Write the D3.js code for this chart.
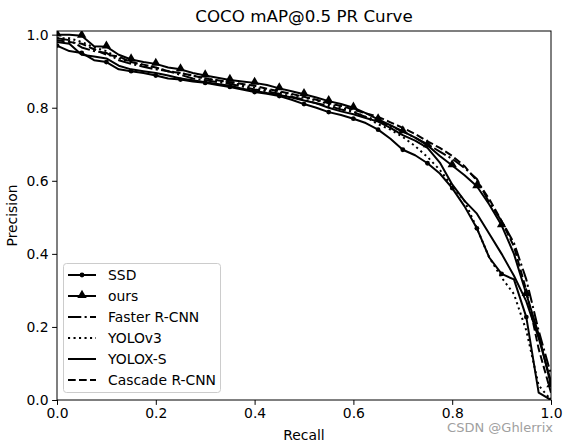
<!DOCTYPE html>
<html><head><meta charset="utf-8">
<script src="https://cdn.jsdelivr.net/npm/d3@7"></script>
<style>body{margin:0;background:#fff}svg{display:block}text{font-family:"DejaVu Sans",sans-serif}</style>
</head><body><svg id="c" width="569" height="442"></svg>
<script>
const recall = [0,0.025,0.05,0.075,0.1,0.125,0.15,0.175,0.2,0.225,0.25,0.275,0.3,0.325,0.35,0.375,0.4,0.425,0.45,0.475,0.5,0.525,0.55,0.575,0.6,0.625,0.65,0.675,0.7,0.725,0.75,0.775,0.8,0.825,0.85,0.875,0.9,0.925,0.95,0.975,1.0];
const ssd    = [0.97,0.955,0.95,0.93,0.925,0.905,0.90,0.895,0.888,0.88,0.877,0.872,0.868,0.862,0.857,0.85,0.843,0.838,0.832,0.822,0.81,0.80,0.788,0.78,0.77,0.758,0.74,0.715,0.685,0.67,0.648,0.62,0.58,0.53,0.47,0.39,0.345,0.33,0.227,0.02,0.0];
const ours   = [1.0,1.0,0.997,0.968,0.967,0.945,0.932,0.925,0.92,0.91,0.905,0.895,0.888,0.882,0.876,0.872,0.868,0.862,0.853,0.845,0.837,0.828,0.818,0.81,0.80,0.785,0.768,0.752,0.735,0.718,0.697,0.668,0.642,0.615,0.585,0.535,0.478,0.40,0.29,0.18,0.04];
const faster = [0.99,0.985,0.965,0.955,0.95,0.93,0.92,0.912,0.905,0.90,0.89,0.88,0.875,0.87,0.865,0.858,0.85,0.845,0.838,0.83,0.822,0.812,0.805,0.795,0.788,0.775,0.765,0.75,0.735,0.718,0.70,0.68,0.66,0.635,0.605,0.54,0.49,0.43,0.33,0.19,0.07];
const yolov3 = [0.99,0.99,0.98,0.965,0.955,0.935,0.925,0.915,0.91,0.90,0.895,0.888,0.88,0.875,0.868,0.862,0.855,0.848,0.842,0.836,0.828,0.82,0.81,0.80,0.79,0.775,0.755,0.74,0.72,0.695,0.665,0.63,0.585,0.545,0.47,0.39,0.335,0.29,0.19,0.04,0.0];
const yoloxs = [0.98,0.975,0.945,0.94,0.935,0.915,0.905,0.90,0.895,0.888,0.88,0.875,0.87,0.865,0.86,0.852,0.846,0.84,0.835,0.828,0.82,0.812,0.80,0.79,0.782,0.772,0.762,0.745,0.725,0.71,0.69,0.65,0.59,0.545,0.51,0.455,0.40,0.34,0.27,0.17,0.05];
const cascade= [0.985,0.98,0.975,0.96,0.945,0.94,0.925,0.918,0.91,0.90,0.895,0.888,0.88,0.875,0.87,0.865,0.86,0.852,0.845,0.838,0.83,0.822,0.812,0.805,0.795,0.785,0.775,0.76,0.745,0.728,0.708,0.69,0.668,0.64,0.60,0.55,0.49,0.42,0.30,0.14,0.02];
const seriesNames = ["SSD","ours","Faster R-CNN","YOLOv3","YOLOX-S","Cascade R-CNN"];
const xTicks = [0,0.2,0.4,0.6,0.8,1.0];
const yTicks = [0,0.2,0.4,0.6,0.8,1.0];

const series = [
  {name:seriesNames[0], vals:ssd, dash:null, marker:"dot"},
  {name:seriesNames[1], vals:ours, dash:null, marker:"tri"},
  {name:seriesNames[2], vals:faster, dash:"13.3,3.3,2.1,3.3", marker:null},
  {name:seriesNames[3], vals:yolov3, dash:"2.1,3.4", marker:null},
  {name:seriesNames[4], vals:yoloxs, dash:null, marker:null},
  {name:seriesNames[5], vals:cascade, dash:"7.7,3.3", marker:null}
];

const svg = d3.select("#c");
const L=57, R=551, T=31, B=400;
const x = d3.scaleLinear().domain([0,1]).range([L,R]);
const y = d3.scaleLinear().domain([0,1.01]).range([B,T]);

svg.append("clipPath").attr("id","clip").append("rect").attr("x",L).attr("y",T).attr("width",R-L).attr("height",B-T);
const g = svg.append("g").attr("clip-path","url(#clip)");
const line = d3.line().x((d,i)=>x(recall[i])).y(d=>y(d));
const tri = d3.symbol().type(d3.symbolTriangle).size(38);

series.forEach(s=>{
  g.append("path").attr("d",line(s.vals)).attr("fill","none").attr("stroke","#000")
   .attr("stroke-width",2).attr("stroke-dasharray",s.dash).attr("stroke-linejoin","round");
  if(s.marker){
    const pts = s.vals.map((v,i)=>[recall[i],v]).filter((p,i)=>i%2===0);
    if(s.marker==="dot"){
      g.selectAll(null).data(pts).enter().append("circle").attr("cx",p=>x(p[0])).attr("cy",p=>y(p[1])).attr("r",2.4).attr("fill","#000");
    } else {
      g.selectAll(null).data(pts).enter().append("path").attr("d",tri).attr("transform",p=>`translate(${x(p[0])},${y(p[1])-0.8})`).attr("fill","#000");
    }
  }
});

// frame
svg.append("rect").attr("x",L).attr("y",T).attr("width",R-L).attr("height",B-T).attr("fill","none").attr("stroke","#000").attr("stroke-width",1);

// axes
const xa = svg.append("g").attr("transform",`translate(0,${B})`).call(d3.axisBottom(x).tickValues(xTicks).tickFormat(d3.format(".1f")).tickSize(4.9).tickPadding(3.5));
const ya = svg.append("g").attr("transform",`translate(${L},0)`).call(d3.axisLeft(y).tickValues(yTicks).tickFormat(d3.format(".1f")).tickSize(4.9).tickPadding(3.5));
[xa,ya].forEach(a=>{a.select(".domain").remove(); a.selectAll("text").attr("font-size",13.9).attr("font-family","DejaVu Sans").attr("fill","#000"); a.selectAll("line").attr("stroke","#000");});

svg.append("text").attr("x",(L+R)/2).attr("y",22).attr("text-anchor","middle").attr("font-size",16.7).text("COCO mAP@0.5 PR Curve");
svg.append("text").attr("x",(L+R)/2).attr("y",440).attr("text-anchor","middle").attr("font-size",13.9).text("Recall");
svg.append("text").attr("transform",`translate(17,${(T+B)/2}) rotate(-90)`).attr("text-anchor","middle").attr("font-size",13.9).text("Precision");

// legend
const lg = svg.append("g");
lg.append("rect").attr("x",63.5).attr("y",263.5).attr("width",157).attr("height",129).attr("rx",3).attr("fill","#fff").attr("fill-opacity",0.8).attr("stroke","#ccc");
series.forEach((s,i)=>{
  const yy = 275 + i*21;
  lg.append("line").attr("x1",68).attr("x2",96).attr("y1",yy).attr("y2",yy).attr("stroke","#000").attr("stroke-width",2).attr("stroke-dasharray",s.dash);
  if(s.marker==="dot") lg.append("circle").attr("cx",82).attr("cy",yy).attr("r",2.4).attr("fill","#000");
  if(s.marker==="tri") lg.append("path").attr("d",tri).attr("transform",`translate(82,${yy-0.8})`).attr("fill","#000");
  lg.append("text").attr("x",108).attr("y",yy+5).attr("font-size",13.9).text(s.name);
});

// watermark
svg.append("text").attr("x",553).attr("y",432).attr("text-anchor","end").attr("font-size",13).attr("font-family","Roboto, sans-serif").attr("fill","#a0a0a0").text("CSDN @Ghlerrix");
</script></body></html>
